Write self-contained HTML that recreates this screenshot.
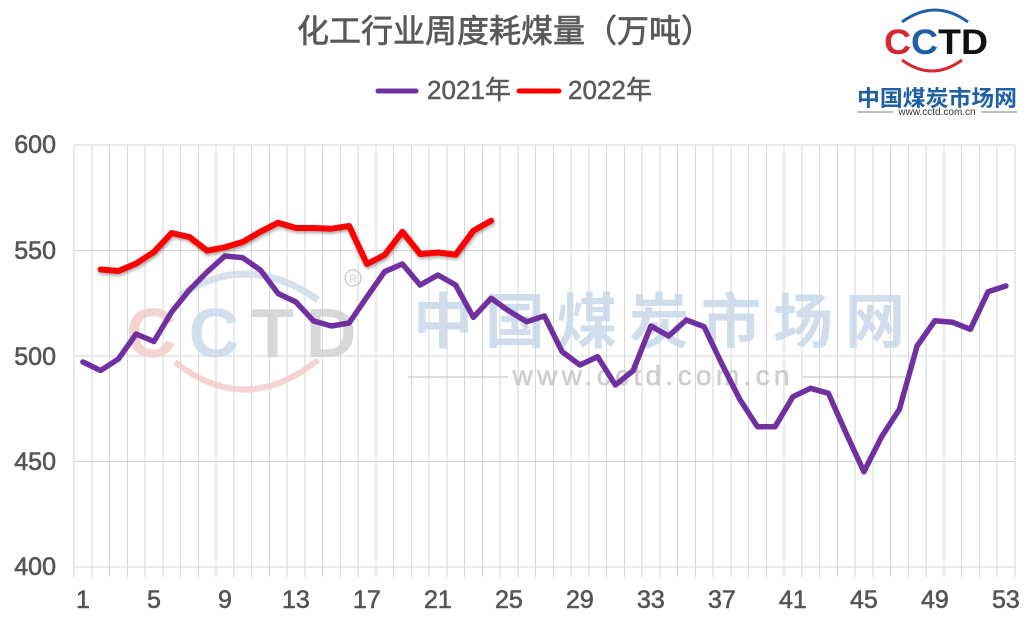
<!DOCTYPE html>
<html>
<head>
<meta charset="utf-8">
<style>
html,body{margin:0;padding:0;background:#fff;}
svg{display:block;}
text{font-family:"Liberation Sans","Noto Sans CJK SC",sans-serif;}
</style>
</head>
<body>
<svg width="1033" height="630" viewBox="0 0 1033 630" xmlns="http://www.w3.org/2000/svg">
<defs>
<filter id="sh" x="-10%" y="-10%" width="120%" height="130%">
<feGaussianBlur in="SourceAlpha" stdDeviation="1.5"/>
<feOffset dx="1" dy="2" result="b"/>
<feComponentTransfer><feFuncA type="linear" slope="0.35"/></feComponentTransfer>
<feMerge><feMergeNode/><feMergeNode in="SourceGraphic"/></feMerge>
</filter>
</defs>
<rect width="1033" height="630" fill="#fff"/>

<!-- Title -->
<text x="505" y="42" text-anchor="middle" font-size="32" fill="#595959" stroke="#595959" stroke-width="0.7" style="font-family:'Liberation Sans','Noto Sans CJK SC',sans-serif">化工行业周度耗煤量（万吨）</text>

<!-- Legend -->
<line x1="378" y1="91" x2="416" y2="91" stroke="#7030A0" stroke-width="5" stroke-linecap="round"/>
<text x="427" y="99" font-size="26" fill="#595959" stroke="#595959" stroke-width="0.5">2021年</text>
<line x1="519" y1="91" x2="559" y2="91" stroke="#FF0000" stroke-width="5" stroke-linecap="round"/>
<text x="568" y="99" font-size="26" fill="#595959" stroke="#595959" stroke-width="0.5">2022年</text>

<!-- Logo top right -->
<path d="M 902 22 Q 935 -2 968 22" fill="none" stroke="#1f5fa6" stroke-width="3"/>
<path d="M 902 60 Q 932 82 962 60" fill="none" stroke="#d7282f" stroke-width="3"/>
<text x="884" y="54" font-size="35" font-weight="bold" style="font-family:'Liberation Sans',sans-serif" textLength="104" lengthAdjust="spacingAndGlyphs"><tspan fill="#d7282f">C</tspan><tspan fill="#1f5fa6">C</tspan><tspan fill="#111">TD</tspan></text>
<text x="937" y="106" text-anchor="middle" font-size="22" font-weight="bold" fill="#1f5fa6" textLength="160" lengthAdjust="spacingAndGlyphs">中国煤炭市场网</text>
<line x1="857" y1="112" x2="893" y2="112" stroke="#555" stroke-width="0.8"/>
<line x1="981" y1="112" x2="1017" y2="112" stroke="#555" stroke-width="0.8"/>
<text x="937" y="115" text-anchor="middle" font-size="10" fill="#333">www.cctd.com.cn</text>

<!-- Grid -->
<g stroke="#d6d6d6" stroke-width="1" shape-rendering="crispEdges">
<line x1="74" y1="145" x2="1015" y2="145"/>
<line x1="74" y1="250.5" x2="1015" y2="250.5"/>
<line x1="74" y1="356" x2="1015" y2="356"/>
<line x1="74" y1="461.5" x2="1015" y2="461.5"/>
<line x1="74" y1="567" x2="1015" y2="567"/>
</g>
<g stroke="#d6d6d6" stroke-width="1" shape-rendering="crispEdges">
<line x1="74" y1="145" x2="74" y2="577"/><line x1="91.75" y1="145" x2="91.75" y2="577"/><line x1="109.5" y1="145" x2="109.5" y2="577"/><line x1="127.25" y1="145" x2="127.25" y2="577"/><line x1="145" y1="145" x2="145" y2="577"/><line x1="162.75" y1="145" x2="162.75" y2="577"/><line x1="180.5" y1="145" x2="180.5" y2="577"/><line x1="198.25" y1="145" x2="198.25" y2="577"/><line x1="216" y1="145" x2="216" y2="577"/><line x1="233.75" y1="145" x2="233.75" y2="577"/><line x1="251.5" y1="145" x2="251.5" y2="577"/><line x1="269.25" y1="145" x2="269.25" y2="577"/><line x1="287" y1="145" x2="287" y2="577"/><line x1="304.75" y1="145" x2="304.75" y2="577"/><line x1="322.5" y1="145" x2="322.5" y2="577"/><line x1="340.25" y1="145" x2="340.25" y2="577"/><line x1="358" y1="145" x2="358" y2="577"/><line x1="375.75" y1="145" x2="375.75" y2="577"/><line x1="393.5" y1="145" x2="393.5" y2="577"/><line x1="411.25" y1="145" x2="411.25" y2="577"/><line x1="429" y1="145" x2="429" y2="577"/><line x1="446.75" y1="145" x2="446.75" y2="577"/><line x1="464.5" y1="145" x2="464.5" y2="577"/><line x1="482.25" y1="145" x2="482.25" y2="577"/><line x1="500" y1="145" x2="500" y2="577"/><line x1="517.75" y1="145" x2="517.75" y2="577"/><line x1="535.5" y1="145" x2="535.5" y2="577"/><line x1="553.25" y1="145" x2="553.25" y2="577"/><line x1="571" y1="145" x2="571" y2="577"/><line x1="588.75" y1="145" x2="588.75" y2="577"/><line x1="606.5" y1="145" x2="606.5" y2="577"/><line x1="624.25" y1="145" x2="624.25" y2="577"/><line x1="642" y1="145" x2="642" y2="577"/><line x1="659.75" y1="145" x2="659.75" y2="577"/><line x1="677.5" y1="145" x2="677.5" y2="577"/><line x1="695.25" y1="145" x2="695.25" y2="577"/><line x1="713" y1="145" x2="713" y2="577"/><line x1="730.75" y1="145" x2="730.75" y2="577"/><line x1="748.5" y1="145" x2="748.5" y2="577"/><line x1="766.25" y1="145" x2="766.25" y2="577"/><line x1="784" y1="145" x2="784" y2="577"/><line x1="801.75" y1="145" x2="801.75" y2="577"/><line x1="819.5" y1="145" x2="819.5" y2="577"/><line x1="837.25" y1="145" x2="837.25" y2="577"/><line x1="855" y1="145" x2="855" y2="577"/><line x1="872.75" y1="145" x2="872.75" y2="577"/><line x1="890.5" y1="145" x2="890.5" y2="577"/><line x1="908.25" y1="145" x2="908.25" y2="577"/><line x1="926" y1="145" x2="926" y2="577"/><line x1="943.75" y1="145" x2="943.75" y2="577"/><line x1="961.5" y1="145" x2="961.5" y2="577"/><line x1="979.25" y1="145" x2="979.25" y2="577"/><line x1="997" y1="145" x2="997" y2="577"/><line x1="1014.75" y1="145" x2="1014.75" y2="577"/>
</g>

<!-- Y labels -->
<g font-size="25" fill="#555" stroke="#555" stroke-width="0.6" text-anchor="end">
<text x="56" y="153">600</text>
<text x="56" y="259">550</text>
<text x="56" y="365">500</text>
<text x="56" y="470">450</text>
<text x="56" y="575">400</text>
</g>
<!-- X labels -->
<g font-size="25" fill="#555" stroke="#555" stroke-width="0.6" text-anchor="middle">
<text x="82.9" y="608">1</text>
<text x="153.9" y="608">5</text>
<text x="224.9" y="608">9</text>
<text x="295.9" y="608">13</text>
<text x="366.9" y="608">17</text>
<text x="437.9" y="608">21</text>
<text x="508.9" y="608">25</text>
<text x="579.9" y="608">29</text>
<text x="650.9" y="608">33</text>
<text x="721.9" y="608">37</text>
<text x="792.9" y="608">41</text>
<text x="863.9" y="608">45</text>
<text x="934.9" y="608">49</text>
<text x="1005.9" y="608">53</text>
</g>

<!-- Watermark -->
<g opacity="0.85">
<path d="M 180 296 Q 247 250 318 300" fill="none" stroke="#cfdcea" stroke-width="7"/>
<path d="M 175 362 Q 245 418 318 360" fill="none" stroke="#f4cccc" stroke-width="6"/>
<text x="126" y="357" font-size="70" font-weight="bold" letter-spacing="12" style="font-family:'Liberation Sans',sans-serif"><tspan fill="#f3cccc">C</tspan><tspan fill="#cbdaea">C</tspan><tspan fill="#d2d2d2">TD</tspan></text>
<circle cx="353" cy="278" r="8" fill="none" stroke="#c4c4c4" stroke-width="1.5"/>
<text x="353" y="282.5" text-anchor="middle" font-size="11" fill="#c4c4c4">R</text>
<text x="659" y="343" text-anchor="middle" font-size="60" font-weight="bold" fill="#c8d8ea" textLength="492" lengthAdjust="spacing">中国煤炭市场网</text>
<line x1="408" y1="377" x2="508" y2="377" stroke="#c0c0c0" stroke-width="1.2"/>
<line x1="803" y1="377" x2="905" y2="377" stroke="#c0c0c0" stroke-width="1.2"/>
<text x="651" y="385" text-anchor="middle" font-size="28" fill="#c6c6c6" stroke="#c6c6c6" stroke-width="0.6" textLength="277" lengthAdjust="spacing">www.cctd.com.cn</text>
</g>

<!-- Series 2021 -->
<polyline fill="none" stroke="#7030A0" stroke-width="5.5" stroke-linejoin="round" stroke-linecap="round"
points="82.9,362 100.6,370.5 118.4,359 136.1,334 153.9,341.5 171.6,312 189.4,290 207.1,272 224.9,256 242.6,257.7 260.4,270 278.1,293.5 295.9,302 313.6,321 331.4,326 349.1,323 366.9,297 384.6,271.7 402.4,264 420.1,285 437.9,275 455.6,285 473.4,317.3 491.1,298.3 508.9,311 526.6,321.7 544.4,316 562.1,351.7 579.9,365 597.6,356.7 615.4,385 633.1,370.7 650.9,326 668.6,336 686.4,320 704.1,326.7 721.9,364 739.6,399 757.4,426.7 775.1,426.7 792.9,396.7 810.6,388.3 828.4,393.3 846.1,433.3 863.9,471.7 881.6,436.7 899.4,409.3 917.1,346 934.9,320.7 952.6,322.3 970.4,329.3 988.1,291.7 1005.9,286"/>

<!-- Series 2022 -->
<polyline fill="none" stroke="#FF0000" stroke-width="6" stroke-linejoin="round" stroke-linecap="round" filter="url(#sh)"
points="100.6,269.5 118.4,271 136.1,263.5 153.9,252 171.6,233 189.4,237 207.1,250.7 224.9,247.3 242.6,242 260.4,231.7 278.1,222.7 295.9,228 313.6,228 331.4,228.7 349.1,226 366.9,264 384.6,255 402.4,231.7 420.1,254 437.9,252.5 455.6,254.7 473.4,230.7 491.1,220.7"/>
</svg>
</body>
</html>
